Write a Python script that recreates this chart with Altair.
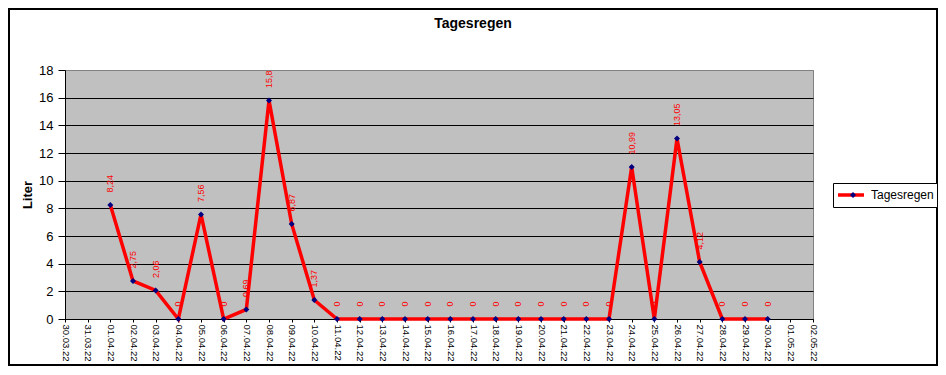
import altair as alt
import pandas as pd

# ---- data -------------------------------------------------------------
dates = [
    "30.03.22", "31.03.22", "01.04.22", "02.04.22", "03.04.22", "04.04.22",
    "05.04.22", "06.04.22", "07.04.22", "08.04.22", "09.04.22", "10.04.22",
    "11.04.22", "12.04.22", "13.04.22", "14.04.22", "15.04.22", "16.04.22",
    "17.04.22", "18.04.22", "19.04.22", "20.04.22", "21.04.22", "22.04.22",
    "23.04.22", "24.04.22", "25.04.22", "26.04.22", "27.04.22", "28.04.22",
    "29.04.22", "30.04.22", "01.05.22", "02.05.22",
]
rain = [
    None, None, 8.24, 2.75, 2.06, 0, 7.56, 0, 0.69, 15.8, 6.87, 1.37,
    0, 0, 0, 0, 0, 0, 0, 0, 0, 0, 0, 0, 0,
    10.99, 0, 13.05, 4.12, 0, 0, 0, None, None,
]
series_name = "Tagesregen"
marker_key = "Marker"
y_ticks = [0, 2, 4, 6, 8, 10, 12, 14, 16, 18]

rows = [
    {"Datum": d, "Liter": v, "Serie": series_name, "Marker": marker_key,
     "Label": f"{v:g}".replace(".", ",")}
    for d, v in zip(dates, rain) if v is not None
]
df = pd.DataFrame(rows)

FONT = "Liberation Sans, Arial, sans-serif"

# ---- layout (pixels) ----------------------------------------------------
W, H = 748, 249
PAD = {"left": 57, "top": 62, "right": 125, "bottom": 47}
LEG_X, LEG_Y = 768, 113

x = alt.X(
    "Datum:O",
    sort=dates,
    scale=alt.Scale(type="point", domain=dates, padding=0),
    axis=alt.Axis(
        title=None, labelAngle=90, labelFont=FONT, labelFontSize=9.5,
        labelColor="black", tickSize=3, tickColor="black", labelPadding=2,
        domainColor="black", grid=False, labelOverlap=False,
    ),
)
y = alt.Y(
    "Liter:Q",
    scale=alt.Scale(domain=[0, 18], nice=False),
    axis=alt.Axis(
        values=y_ticks, title="Liter", titleFont=FONT, titleFontSize=13,
        titleFontWeight="bold", titleColor="black", titlePadding=4,
        labelFont=FONT, labelFontSize=13, labelColor="black",
        tickSize=7, tickColor="black", labelPadding=5, domainColor="black",
        grid=True,
        gridColor={"condition": {"test": "datum.value === 18", "value": "#808080"},
                   "value": "black"},
        gridOpacity=1, gridWidth=1,
    ),
)

base = alt.Chart(df).encode(x=x, y=y)

labels = base.mark_text(
    angle=270, align="left", baseline="middle", dx=12.5,
    font=FONT, fontSize=9, color="#ff0000",
).encode(text="Label:N")

line = base.mark_line(strokeWidth=3.5).encode(
    color=alt.Color(
        "Serie:N",
        scale=alt.Scale(domain=[series_name], range=["#ff0000"]),
        legend=alt.Legend(
            title=None, orient="none", legendX=LEG_X, legendY=LEG_Y,
            symbolType="stroke", symbolSize=676, symbolStrokeWidth=3.5,
            symbolOffset=0, clipHeight=18,
            labelFont=FONT, labelFontSize=12, labelColor="black",
            labelOffset=5, padding=3, strokeColor="black", fillColor="white",
        ),
    )
)

points = base.mark_point(shape="diamond", filled=True, size=36, opacity=1).encode(
    fill=alt.Fill(
        "Marker:N",
        scale=alt.Scale(domain=[marker_key], range=["#000080"]),
        legend=alt.Legend(
            title=None, orient="none", legendX=LEG_X, legendY=LEG_Y,
            symbolType="diamond", symbolSize=36, symbolOpacity=1,
            symbolStrokeWidth=0, clipHeight=18,
            labelFont=FONT, labelFontSize=12, labelColor="transparent",
            labelExpr="''",
            labelOffset=5, padding=3, symbolOffset=11,
        ),
    )
)

border = alt.Chart(pd.DataFrame({"k": [0]})).mark_rect(
    fill="transparent", stroke="black", strokeWidth=2
).encode(
    x=alt.value(-56), x2=alt.value(W + PAD["right"] - 1),
    y=alt.value(-61), y2=alt.value(H + PAD["bottom"] - 1),
)

chart = alt.layer(labels, line, points, border).properties(
    width=W, height=H,
    padding=PAD,
    autosize=alt.AutoSizeParams(type="none"),
    title=alt.TitleParams(
        "Tagesregen", font=FONT, fontSize=14, fontWeight="bold", color="black",
        anchor="middle", dx=34, offset=0, dy=34, baseline="alphabetic",
    ),
    background="white",
).configure_view(
    fill="#c0c0c0", stroke="#808080", strokeWidth=1,
)

chart.save("out.html", embed_options={"renderer": "svg", "actions": False})
